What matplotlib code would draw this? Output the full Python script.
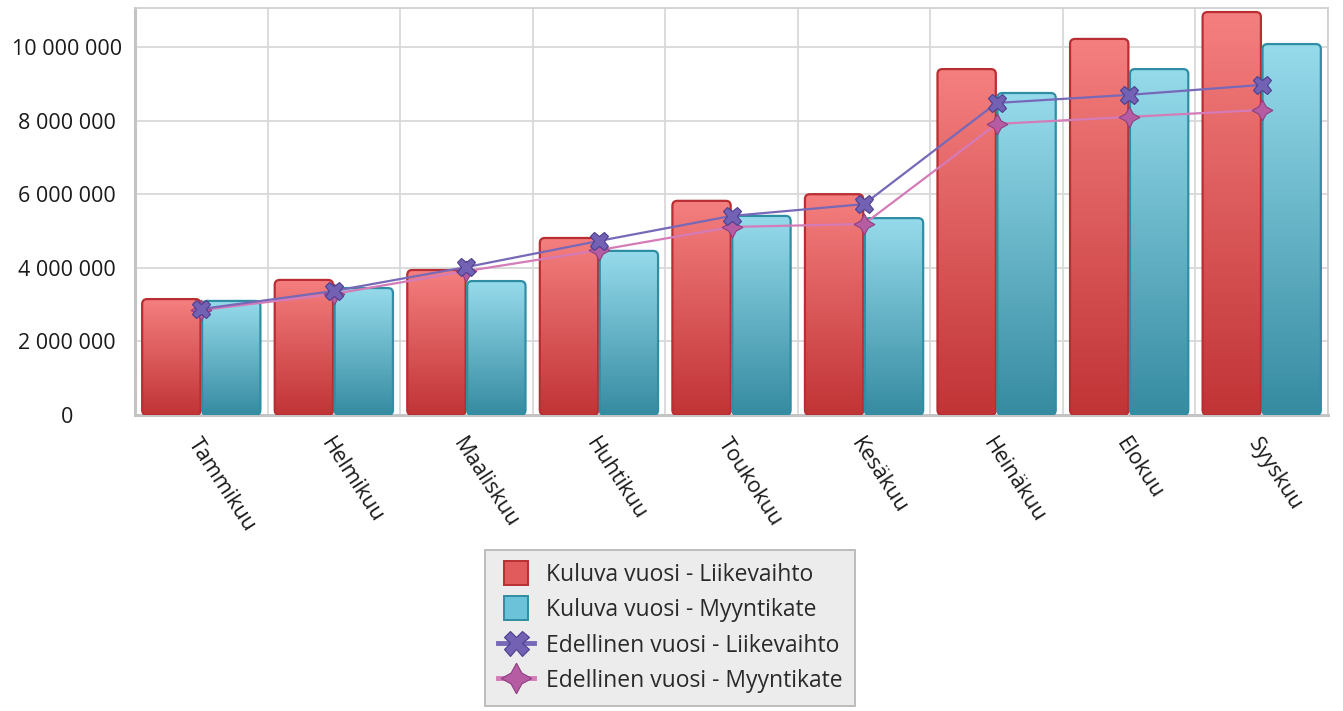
import matplotlib
matplotlib.use("Agg")
import matplotlib.pyplot as plt
import numpy as np
from matplotlib.patches import FancyBboxPatch, Patch, Rectangle
from matplotlib.lines import Line2D
from matplotlib.colors import LinearSegmentedColormap
from matplotlib.ticker import FuncFormatter, MultipleLocator
from matplotlib.legend_handler import HandlerPatch

months = ["Tammikuu", "Helmikuu", "Maaliskuu", "Huhtikuu", "Toukokuu",
          "Kesäkuu", "Heinäkuu", "Elokuu", "Syyskuu"]
kuluva_liikevaihto = [3150000, 3670000, 3940000, 4810000, 5820000, 6000000, 9400000, 10220000, 10950000]
kuluva_myyntikate = [3100000, 3450000, 3640000, 4460000, 5410000, 5350000, 8750000, 9400000, 10080000]
edellinen_liikevaihto = [2880000, 3370000, 4020000, 4730000, 5410000, 5730000, 8480000, 8700000, 8970000]
edellinen_myyntikate = [2850000, 3290000, 3910000, 4480000, 5110000, 5190000, 7910000, 8100000, 8290000]
labels = ["Kuluva vuosi - Liikevaihto", "Kuluva vuosi - Myyntikate",
          "Edellinen vuosi - Liikevaihto", "Edellinen vuosi - Myyntikate"]

plt.rcParams['font.family'] = ['Open Sans', 'DejaVu Sans']

W, H = 1343, 711
fig = plt.figure(figsize=(W / 100, H / 100), dpi=100)
ax = fig.add_axes([135 / W, 1 - 415 / H, (1328 - 135) / W, (415 - 8) / H])

YMAX = 11060000
ax.set_xlim(-0.5, len(months) - 0.5)
ax.set_ylim(0, YMAX)

x = np.arange(len(months))
bw = 0.44
off = 0.226

px_x = (len(months)) / (1328 - 135)
px_y = YMAX / (415 - 8)
aspect = px_y / px_x

red_cmap = LinearSegmentedColormap.from_list("r", ["#c13436", "#f57f7f"])
cyan_cmap = LinearSegmentedColormap.from_list("c", ["#368ba1", "#96dbec"])
grad = np.linspace(0, 1, 256).reshape(-1, 1)


def draw_bars(xs, vals, cmap, edge):
    for xc, v in zip(xs, vals):
        x0 = xc - bw / 2
        patch = FancyBboxPatch((x0, 0), bw, v,
                               boxstyle="round,pad=0,rounding_size=%f" % (5 * px_x),
                               mutation_aspect=aspect,
                               facecolor="none", edgecolor=edge, linewidth=1.6, zorder=3)
        ax.add_patch(patch)
        im = ax.imshow(grad, extent=[x0, x0 + bw, 0, v], origin="lower",
                       cmap=cmap, aspect="auto", zorder=2.5, interpolation="bicubic")
        im.set_clip_path(patch)


draw_bars(x - off, kuluva_liikevaihto, red_cmap, "#b82e32")
draw_bars(x + off, kuluva_myyntikate, cyan_cmap, "#2f8ea4")

ax.plot(x, edellinen_myyntikate, color="#d47bb8", linewidth=1.6, zorder=4,
        marker=(4, 1, 0), markersize=15, markerfacecolor="#b65ca2",
        markeredgecolor="#8e3f80", markeredgewidth=0.8)
ax.plot(x, edellinen_liikevaihto, color="#7768b8", linewidth=1.6, zorder=5,
        marker="X", markersize=13, markerfacecolor="#7361b3",
        markeredgecolor="#4d3f8f", markeredgewidth=0.8)

ax.set_xlim(-0.5, len(months) - 0.5)
ax.set_ylim(0, YMAX)

ax.yaxis.set_major_locator(MultipleLocator(2000000))
ax.set_xticks(x)
ax.set_xticks(np.arange(len(months) + 1) - 0.5, minor=True)
ax.grid(True, axis="y", which="major", color="#d9d9d9", linewidth=1.3, zorder=0)
ax.grid(True, axis="x", which="minor", color="#d9d9d9", linewidth=1.3, zorder=0)
ax.set_axisbelow(True)

for s in ["top", "right"]:
    ax.spines[s].set_color("#d0d0d0")
    ax.spines[s].set_linewidth(1.3)
for s in ["left", "bottom"]:
    ax.spines[s].set_color("#c4c4c4")
    ax.spines[s].set_linewidth(2.2)

ax.yaxis.set_major_formatter(FuncFormatter(lambda v, p: f"{int(round(v)):,}".replace(",", " ")))
ax.tick_params(axis="y", which="both", length=0, pad=49, labelsize=15.5, labelcolor="#1a1a1a")
for lab in ax.get_yticklabels():
    lab.set_horizontalalignment("center")

ax.set_xticklabels(months, rotation=-57, ha="left", va="top", rotation_mode="anchor",
                   fontsize=15.5, color="#1a1a1a")
ax.tick_params(axis="x", which="both", length=0, pad=14)


class SquareHandler(HandlerPatch):
    def create_artists(self, legend, orig_handle, xdescent, ydescent, width, height, fontsize, trans):
        s = 1.05 * fontsize
        cx = -xdescent + width / 2
        cy = -ydescent + height / 2
        p = Rectangle((cx - s / 2, cy - s / 2), s, s,
                      facecolor=orig_handle.get_facecolor(),
                      edgecolor=orig_handle.get_edgecolor(),
                      linewidth=orig_handle.get_linewidth())
        p.set_transform(trans)
        return [p]


handles = [
    Patch(facecolor="#e15a5c", edgecolor="#b82e32", linewidth=1.4),
    Patch(facecolor="#6cc3d9", edgecolor="#2f8ea4", linewidth=1.4),
    Line2D([0], [0], color="#7768b8", linewidth=3.5, marker="X", markersize=18,
           markerfacecolor="#7361b3", markeredgecolor="#4d3f8f", markeredgewidth=0.8),
    Line2D([0], [0], color="#d47bb8", linewidth=3.5, marker=(4, 1, 0), markersize=22,
           markerfacecolor="#b65ca2", markeredgecolor="#8e3f80", markeredgewidth=0.8),
]
leg = fig.legend(handles, labels, loc="center", bbox_to_anchor=(670 / W, 1 - 628 / H),
                 fontsize=16.5, frameon=True, fancybox=False, edgecolor="#b8b8b8",
                 facecolor="#ececec", framealpha=1, labelspacing=0.5, handlelength=1.6,
                 handleheight=1.0, borderpad=0.55, handletextpad=0.5, borderaxespad=0,
                 labelcolor="#2a2a2a",
                 handler_map={Patch: SquareHandler()})
leg.get_frame().set_linewidth(1.3)

fig.savefig("out.png", dpi=100)
